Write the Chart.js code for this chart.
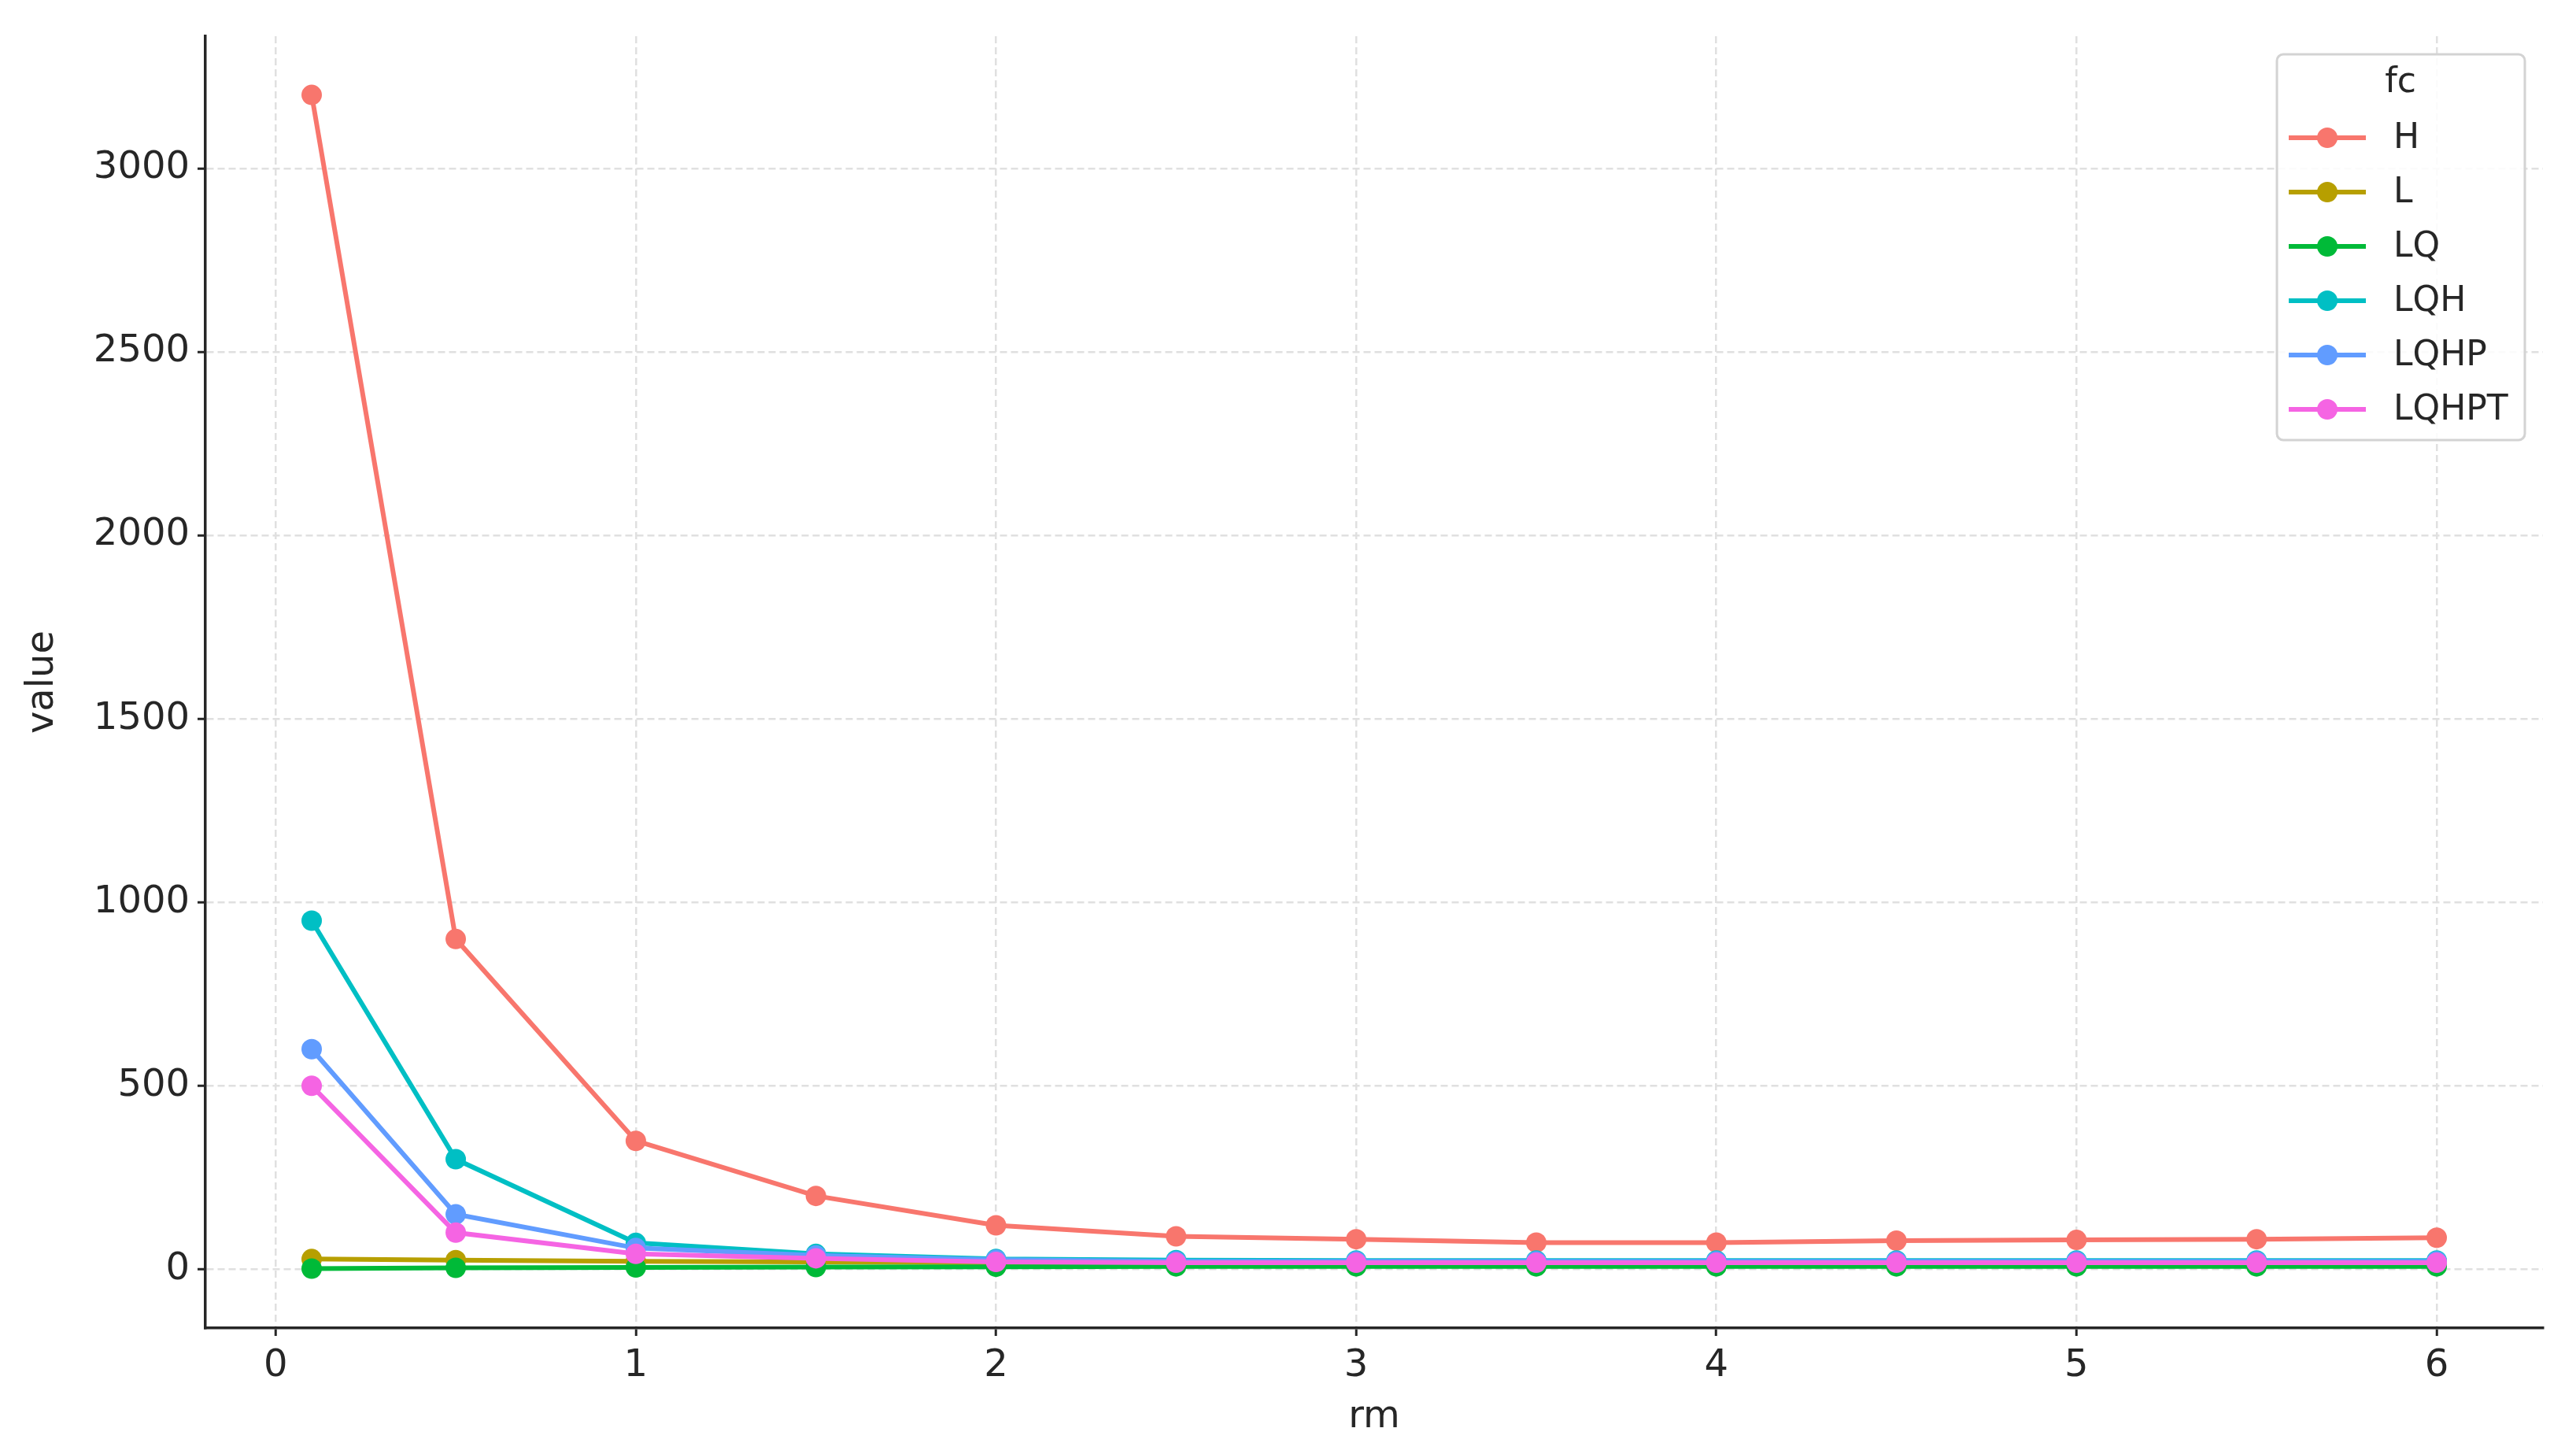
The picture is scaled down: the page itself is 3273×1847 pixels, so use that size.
<!DOCTYPE html>
<html>
<head>
<meta charset="utf-8">
<script src="https://cdn.jsdelivr.net/npm/chart.js@4.4.1/dist/chart.umd.min.js"></script>
<style>
  html, body { margin: 0; padding: 0; background: #fff; }
  #wrap { width: 3273px; height: 1847px; }
</style>
</head>
<body>
<div id="wrap"><canvas id="chart" width="3273" height="1847"></canvas></div>
<script>
// rm values on the x axis
const rm = [0.1, 0.5, 1, 1.5, 2, 2.5, 3, 3.5, 4, 4.5, 5, 5.5, 6];

// one series per fc level
const seriesNames = ['H', 'L', 'LQ', 'LQH', 'LQHP', 'LQHPT'];
const H     = [3200, 900, 350, 200, 120, 90, 82, 73, 73, 78, 80, 82, 86];
const L     = [28, 25, 22, 20, 18, 17, 16, 15, 15, 15, 15, 15, 15];
const LQ    = [2, 4, 5, 6, 7, 8, 8, 8, 8, 8, 8, 8, 8];
const LQH   = [950, 300, 72, 42, 28, 25, 24, 24, 24, 24, 24, 24, 24];
const LQHP  = [600, 150, 58, 38, 26, 22, 22, 22, 22, 22, 22, 22, 22];
const LQHPT = [500, 100, 42, 30, 20, 18, 18, 18, 18, 18, 18, 18, 18];
const seriesValues = [H, L, LQ, LQH, LQHP, LQHPT];
const seriesColors = ['#F8766D', '#B79F00', '#00BA38', '#00BFC4', '#619CFF', '#F564E3'];

// tick labels
const xTicks = [0, 1, 2, 3, 4, 5, 6];
const yTicks = [0, 500, 1000, 1500, 2000, 2500, 3000];

const FONT = 'DejaVu Sans';
const TEXT = '#262626';

const datasets = seriesNames.map((name, i) => ({
    label: name,
    data: rm.map((x, j) => ({ x: x, y: seriesValues[i][j] })),
    borderColor: seriesColors[i],
    backgroundColor: seriesColors[i],
    borderWidth: 6,
    pointRadius: 13,
    pointHoverRadius: 13,
    pointBorderWidth: 0,
    tension: 0,
    order: seriesNames.length - i   // later series drawn on top
}));

// matplotlib-style legend in the top right corner
const legendPlugin = {
    id: 'mplLegend',
    afterDraw(chart) {
        const ctx = chart.ctx;
        const x0 = 2893, y0 = 69, w = 315, h = 490;
        ctx.save();
        ctx.fillStyle = 'rgba(255,255,255,0.85)';
        ctx.strokeStyle = '#d3d3d3';
        ctx.lineWidth = 3;
        ctx.beginPath();
        ctx.roundRect(x0, y0, w, h, 8);
        ctx.fill();
        ctx.stroke();

        ctx.fillStyle = TEXT;
        ctx.font = '44px "' + FONT + '"';
        ctx.textAlign = 'center';
        ctx.textBaseline = 'middle';
        ctx.fillText('fc', 3050, 106);

        ctx.textAlign = 'left';
        seriesNames.forEach((name, i) => {
            const y = 175 + i * 69;
            ctx.strokeStyle = seriesColors[i];
            ctx.lineWidth = 6;
            ctx.beginPath();
            ctx.moveTo(2908, y);
            ctx.lineTo(3006, y);
            ctx.stroke();
            ctx.fillStyle = seriesColors[i];
            ctx.beginPath();
            ctx.arc(2957, y, 13, 0, Math.PI * 2);
            ctx.fill();
            ctx.fillStyle = TEXT;
            ctx.fillText(name, 3041, y + 2);
        });
        ctx.restore();
    }
};

const gridStyle = {
    color: '#e0e0e0',
    lineWidth: 2.5,
    tickColor: TEXT,
    tickLength: 10,
    tickWidth: 3,
    tickBorderDash: [],
    drawTicks: true
};

// in Chart.js v4 the grid line dash lives under border.dash
const borderStyle = { display: true, color: TEXT, width: 3.5, dash: [9, 5] };

new Chart(document.getElementById('chart'), {
    type: 'line',
    data: { datasets: datasets },
    options: {
        responsive: false,
        animation: false,
        layout: { padding: { top: 46, right: 42, left: 0, bottom: 0 } },
        plugins: {
            legend: { display: false },
            tooltip: { enabled: false }
        },
        scales: {
            x: {
                type: 'linear',
                min: -0.195,
                max: 6.295,
                afterBuildTicks: (scale) => { scale.ticks = xTicks.map(v => ({ value: v })); },
                afterFit: (scale) => { scale.height = 160; },
                grid: gridStyle,
                border: borderStyle,
                ticks: {
                    color: TEXT,
                    padding: 10,
                    maxRotation: 0,
                    font: { family: FONT, size: 48 },
                    callback: (v) => String(v)
                },
                title: {
                    display: true,
                    text: 'rm',
                    color: TEXT,
                    padding: { top: 0, bottom: 18 },
                    font: { family: FONT, size: 48 }
                }
            },
            y: {
                type: 'linear',
                min: -160,
                max: 3360,
                afterBuildTicks: (scale) => { scale.ticks = yTicks.map(v => ({ value: v })); },
                afterFit: (scale) => { scale.width = 261; },
                grid: gridStyle,
                border: borderStyle,
                ticks: {
                    color: TEXT,
                    padding: 10,
                    font: { family: FONT, size: 48 },
                    callback: (v) => String(v)
                },
                title: {
                    display: true,
                    text: 'value',
                    color: TEXT,
                    padding: { top: 26, bottom: 0 },
                    font: { family: FONT, size: 48 }
                }
            }
        }
    },
    plugins: [legendPlugin]
});
</script>
</body>
</html>
